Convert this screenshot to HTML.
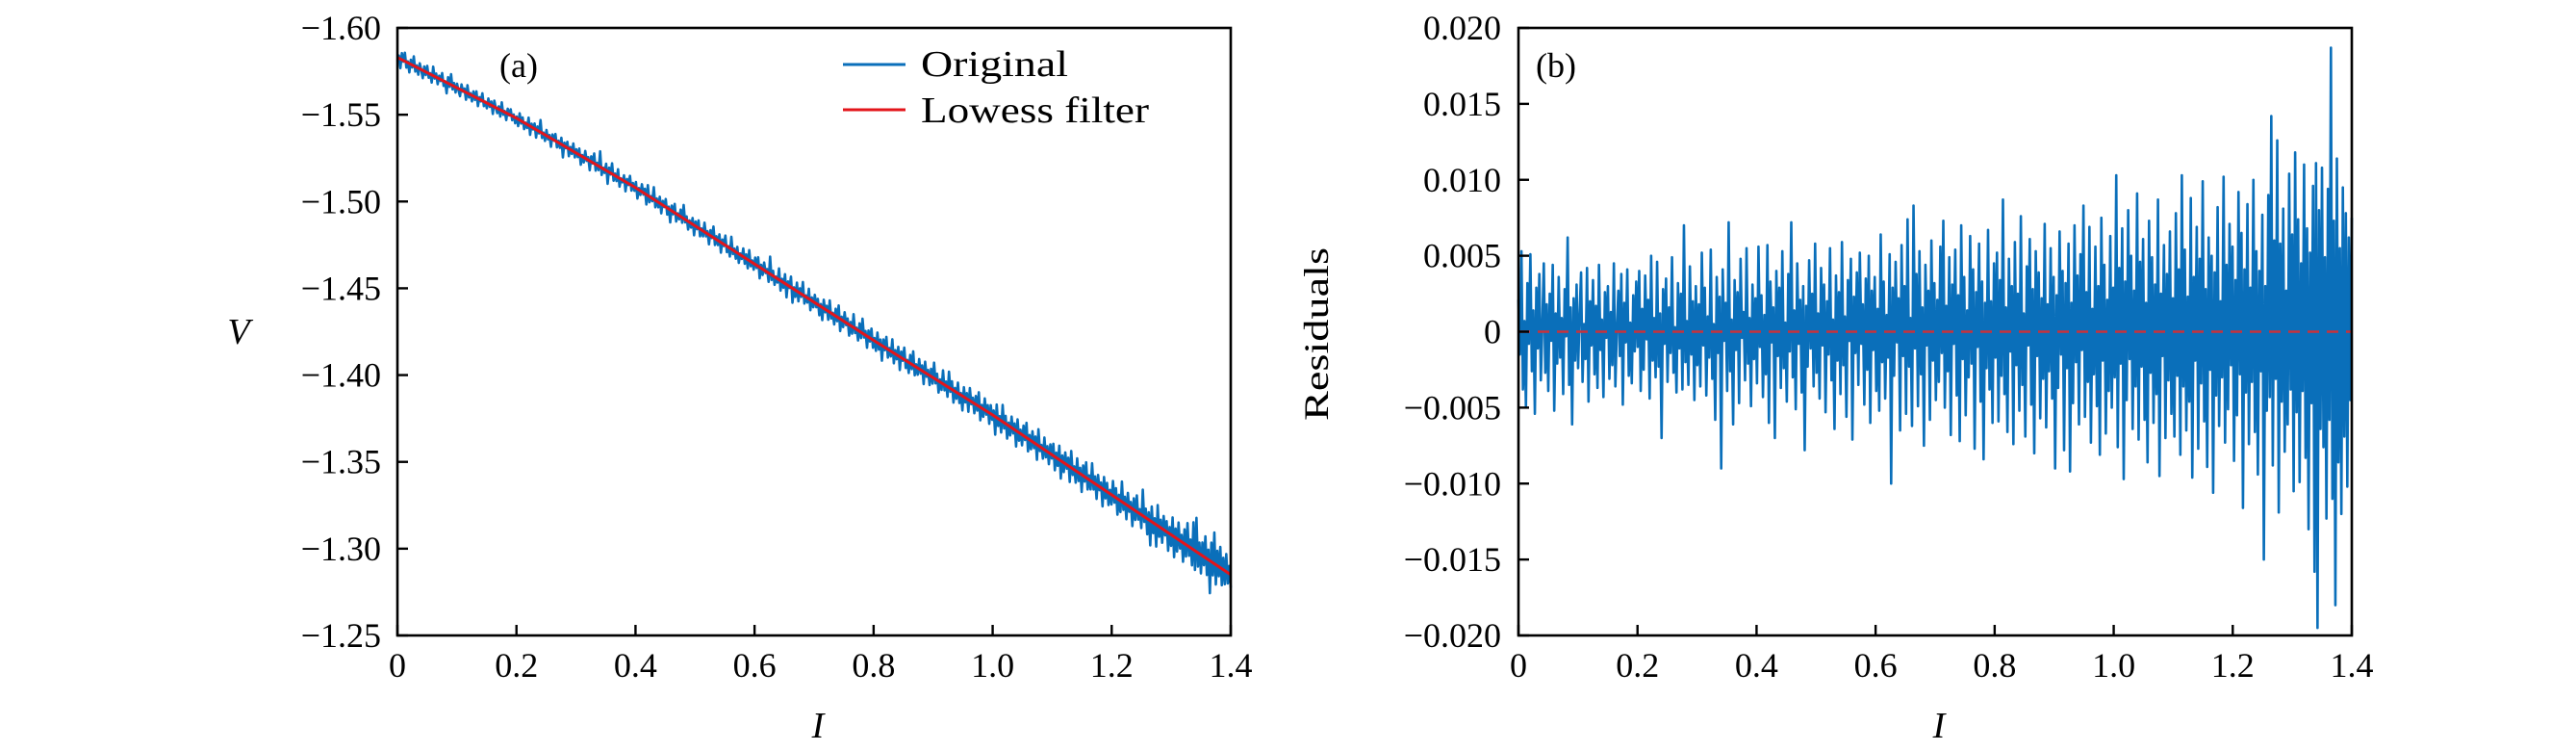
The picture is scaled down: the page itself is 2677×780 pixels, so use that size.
<!DOCTYPE html>
<html><head><meta charset="utf-8"><style>
html,body{margin:0;padding:0;background:#fff;}
svg{display:block;font-family:"Liberation Serif",serif;}
</style></head><body>
<svg id="fig" width="2677" height="780" viewBox="0 0 2677 780" xmlns="http://www.w3.org/2000/svg">
<rect width="2677" height="780" fill="#fff"/>
<g id="pa"></g>
<g id="pb"></g>
</svg>
<script>
// ---- data ----
const xTicks = [0, 0.2, 0.4, 0.6, 0.8, 1.0, 1.2, 1.4];
const xTickLabels = ["0", "0.2", "0.4", "0.6", "0.8", "1.0", "1.2", "1.4"];
const vTicks = [-1.60, -1.55, -1.50, -1.45, -1.40, -1.35, -1.30, -1.25];
const vTickLabels = ["\u22121.60", "\u22121.55", "\u22121.50", "\u22121.45", "\u22121.40", "\u22121.35", "\u22121.30", "\u22121.25"];
const rTicks = [0.020, 0.015, 0.010, 0.005, 0, -0.005, -0.010, -0.015, -0.020];
const rTickLabels = ["0.020", "0.015", "0.010", "0.005", "0", "\u22120.005", "\u22120.010", "\u22120.015", "\u22120.020"];
// lowess fit knots
const lowessI = [0, 0.2, 0.4, 0.6, 0.8, 1.0, 1.2, 1.4];
const lowessV = [-1.583, -1.548, -1.508, -1.464, -1.420, -1.377, -1.331, -1.285];
// residuals (units of 1e-3), evenly spaced over I = 0..1.4
const residuals = [
2.1,-1.5,5.3,-3.8,0.7,-4.9,3.2,-0.8,5.1,-2.6,1.4,-5.4,2.9,-1.1,3.8,-3.2,0.4,4.5,-2.7,1.8,-3.9,2.5,-0.6,4.4,-5.2,1.2,-2.1,3.6,-1.7,0.9,-4.1,2.8,-0.3,6.2,-3.5,1.6,-6.1,2.2,-1.9,3.1,
-2.4,1.1,3.9,-3.3,0.5,-1.8,4.2,-4.6,2.0,-0.9,3.4,-2.8,1.7,-3.7,4.4,-1.2,0.8,-4.3,2.6,-0.4,3.0,-3.1,1.3,-2.2,4.5,-3.6,0.2,2.7,-1.6,3.8,-4.8,1.9,-0.7,4.1,-2.9,0.6,-3.4,2.4,-1.3,3.3,
-1.0,4.0,-3.9,1.5,-2.5,3.7,-0.5,2.1,-4.4,5.0,-1.9,0.9,-3.0,4.6,-2.3,1.2,-7.0,2.8,-0.8,3.5,-3.3,1.6,-1.4,4.9,-2.7,0.3,-4.0,3.2,-1.1,2.5,-3.8,7.0,-2.0,0.7,-3.5,4.3,-1.5,2.0,-4.5,3.0,
-2.2,1.8,-3.6,5.2,-0.9,2.9,-4.2,1.0,-1.7,5.4,-3.1,0.5,-5.8,3.6,-1.4,2.3,-9.0,4.1,-0.6,1.9,-3.9,7.2,-2.6,0.8,-6.1,3.4,-1.2,2.6,-4.7,4.8,-0.4,1.3,-3.2,5.5,-2.1,0.9,-4.9,3.1,-1.8,2.2,
-3.4,5.6,-1.0,2.4,-4.3,1.1,-2.8,5.7,-6.0,3.3,-0.7,1.6,-7.0,4.0,-1.6,2.9,-3.7,5.3,-2.4,0.6,-4.6,3.8,-1.3,7.2,-3.0,1.4,-5.1,4.5,-0.8,2.1,-4.0,3.0,-7.8,1.7,-2.3,4.7,-1.1,2.5,-3.6,5.8,
-2.7,1.2,-4.4,4.2,-0.9,3.1,-5.3,2.0,-1.5,5.5,-3.2,0.8,-6.4,3.7,-1.9,2.6,-4.1,5.9,-2.2,1.0,-5.6,3.4,-0.6,4.8,-7.1,2.3,-1.4,3.9,-3.5,5.2,-0.8,1.8,-4.8,3.5,-2.5,5.0,-6.0,2.7,-1.2,3.6,
-3.9,1.5,-5.2,6.4,-2.0,3.3,-4.4,1.1,-1.7,5.1,-10.0,2.9,-2.9,4.6,-0.7,2.2,-6.5,5.7,-1.6,3.0,-5.4,7.4,-2.3,0.9,-6.2,8.3,-1.1,3.8,-4.9,5.3,-2.8,1.6,-7.5,4.4,-0.9,2.7,-5.8,6.0,-1.9,3.2,
-4.5,2.1,-3.3,5.6,-1.4,7.3,-5.0,1.7,-2.6,4.9,-6.8,3.1,-0.8,5.4,-4.2,2.4,-7.2,7.0,-1.8,3.6,-5.5,1.4,-3.0,6.3,-2.1,4.1,-7.7,2.6,-1.0,5.8,-4.6,3.3,-8.4,1.9,-2.4,6.7,-3.8,2.0,-6.0,4.5,
-1.7,5.2,-5.9,3.4,-2.9,8.7,-4.1,1.6,-6.6,4.8,-1.3,3.0,-7.4,5.9,-2.2,2.5,-5.2,7.6,-3.5,1.2,-6.9,4.3,-0.9,6.1,-4.8,2.8,-8.0,5.3,-1.6,3.9,-5.7,2.2,-3.1,7.1,-6.3,1.8,-2.6,5.5,-4.4,3.6,
-9.0,2.4,-3.7,6.6,-1.5,4.0,-7.8,3.2,-2.4,5.8,-9.2,1.9,-4.7,7.0,-2.0,3.7,-6.1,5.1,-1.2,8.3,-5.6,2.6,-3.3,6.9,-7.3,1.5,-2.8,5.6,-4.9,3.0,-8.1,7.5,-1.9,4.4,-6.7,2.1,-3.9,6.3,-5.0,2.9,
-3.0,10.3,-7.6,4.2,-2.1,6.8,-9.7,3.3,-4.5,8.0,-1.8,5.0,-6.4,2.7,-3.6,9.1,-7.1,4.6,-2.3,6.1,-5.8,1.9,-8.6,7.3,-2.7,4.9,-6.0,3.1,-4.1,8.7,-9.5,2.5,-1.6,5.7,-7.0,3.8,-3.2,6.6,-5.4,2.2,
-6.9,7.8,-2.9,4.1,-8.1,10.3,-3.6,5.4,-6.5,2.3,-4.6,8.8,-9.6,3.6,-1.9,6.9,-7.7,4.8,-3.4,9.9,-5.9,2.8,-8.9,6.2,-2.5,5.0,-10.6,3.9,-4.2,8.2,-6.2,2.0,-3.0,10.2,-7.3,4.4,-5.1,7.1,-2.2,5.6,
-8.5,3.4,-5.5,9.2,-2.8,6.5,-11.6,4.1,-4.0,8.4,-7.4,2.9,-3.3,10.0,-6.6,5.3,-9.4,4.0,-2.6,7.7,-15.0,3.0,-5.2,9.0,-4.3,14.2,-8.8,6.0,-3.1,12.6,-11.9,5.8,-4.6,8.1,-7.9,2.7,-6.1,10.4,-3.8,6.4,
-10.5,11.8,-5.3,7.4,-9.9,4.5,-3.9,11.0,-8.3,6.8,-13.0,5.2,-4.7,9.6,-15.8,11.1,-19.5,8.0,-6.4,10.8,-7.6,4.9,-12.3,9.4,-5.8,18.7,-11.0,7.3,-18.0,11.4,-8.6,5.5,-12.0,9.5,-6.9,7.8,-10.2,6.2,-4.5,7.5
];

// ---- layout ----
const NS = "http://www.w3.org/2000/svg";
const A = {x0: 413, x1: 1279, y0: 29, y1: 660};
const B = {x0: 1578, x1: 2444, y0: 29, y1: 660};
const BLUE = "#0a6fba", RED = "#e3151b";
function xA(i){ return A.x0 + i / 1.4 * (A.x1 - A.x0); }
function xB(i){ return B.x0 + i / 1.4 * (B.x1 - B.x0); }
function yA(v){ return A.y0 + (v + 1.60) / 0.35 * (A.y1 - A.y0); }
function yB(r){ return B.y0 + (0.020 - r) / 0.040 * (B.y1 - B.y0); }
function lowessAt(i){
  for (let k = 0; k < lowessI.length - 1; k++){
    if (i <= lowessI[k+1]){
      const t = (i - lowessI[k]) / (lowessI[k+1] - lowessI[k]);
      return lowessV[k] + t * (lowessV[k+1] - lowessV[k]);
    }
  }
  return lowessV[lowessV.length - 1];
}
function mk(tag, attrs, parent){
  const e = document.createElementNS(NS, tag);
  for (const k in attrs) e.setAttribute(k, attrs[k]);
  parent.appendChild(e);
  return e;
}
const pa = document.getElementById("pa");
const pb = document.getElementById("pb");
const n = residuals.length;
const Iv = residuals.map((_, k) => k / (n - 1) * 1.4);

let d = "";
Iv.forEach((i, k) => { d += (k ? "L" : "M") + xA(i).toFixed(2) + " " + yA(lowessAt(i) + residuals[k] / 1000).toFixed(2); });
const orig = mk("path", {d: d, fill: "none", stroke: BLUE, "stroke-width": 2.6, "stroke-linejoin": "round"}, pa);


let d2 = "";
lowessI.forEach((i, k) => { d2 += (k ? "L" : "M") + xA(i).toFixed(2) + " " + yA(lowessV[k]).toFixed(2); });
const low = mk("path", {d: d2, fill: "none", stroke: RED, "stroke-width": 3}, pa);



let d3 = "";
Iv.forEach((i, k) => { d3 += (k ? "L" : "M") + xB(i).toFixed(2) + " " + yB(residuals[k] / 1000).toFixed(2); });
const res = mk("path", {d: d3, fill: "none", stroke: BLUE, "stroke-width": 2.6, "stroke-linejoin": "round"}, pb);


const zl = mk("line", {x1: B.x0, x2: B.x1, y1: yB(0), y2: yB(0), stroke: "#c8323c", "stroke-width": 2.5, "stroke-dasharray": "12 8"}, pb);



function axes(P, g, xf, yf, yTicks, yLabels, lblX){
  const fr = mk("rect", {x: P.x0, y: P.y0, width: P.x1 - P.x0, height: P.y1 - P.y0, fill: "none", stroke: "#000", "stroke-width": 2.6}, g);
  
  
  xTicks.forEach((t, k) => {
    const x = xf(t);
    const tk = mk("line", {x1: x, x2: x, y1: P.y1, y2: P.y1 - 11, stroke: "#000", "stroke-width": 2.4}, g);
    
    
    const tl = mk("text", {x: x, y: 703, "text-anchor": "middle", "font-size": 36}, g);
    tl.textContent = xTickLabels[k];
    
    
  });
  yTicks.forEach((t, k) => {
    const y = yf(t);
    const tk = mk("line", {x1: P.x0, x2: P.x0 + 11, y1: y, y2: y, stroke: "#000", "stroke-width": 2.4}, g);
    
    
    const tl = mk("text", {x: lblX, y: y + 12, "text-anchor": "end", "font-size": 36}, g);
    tl.textContent = yLabels[k];
    
    
  });
}
axes(A, pa, xA, yA, vTicks, vTickLabels, 396);
axes(B, pb, xB, yB, rTicks, rTickLabels, 1560);
</script>
<svg width="2677" height="780" style="position:absolute;left:0;top:0" xmlns="http://www.w3.org/2000/svg">
  <text x="850" y="766" font-size="38" font-style="italic" text-anchor="middle" font-family="Liberation Serif, serif">I</text>
  <text x="2015" y="766" font-size="38" font-style="italic" text-anchor="middle" font-family="Liberation Serif, serif">I</text>
  <text x="248" y="357" font-size="38" font-style="italic" text-anchor="middle" font-family="Liberation Serif, serif">V</text>
  <text transform="translate(1380,347) rotate(-90)" font-size="36" text-anchor="middle" font-family="Liberation Serif, serif" textLength="180" lengthAdjust="spacingAndGlyphs">Residuals</text>
  <text x="519" y="80" font-size="36" font-family="Liberation Serif, serif">(a)</text>
  <text x="1596" y="80" font-size="36" font-family="Liberation Serif, serif">(b)</text>
  <g>
    <line x1="876" x2="941" y1="67" y2="67" stroke="#0a6fba" stroke-width="3"/>
    <text x="957" y="79" font-size="38" font-family="Liberation Serif, serif" textLength="153" lengthAdjust="spacingAndGlyphs">Original</text>
    <line x1="876" x2="941" y1="114" y2="114" stroke="#e3151b" stroke-width="3"/>
    <text x="957" y="127" font-size="38" font-family="Liberation Serif, serif" textLength="237" lengthAdjust="spacingAndGlyphs">Lowess filter</text>
  </g>
</svg>
</body></html>
